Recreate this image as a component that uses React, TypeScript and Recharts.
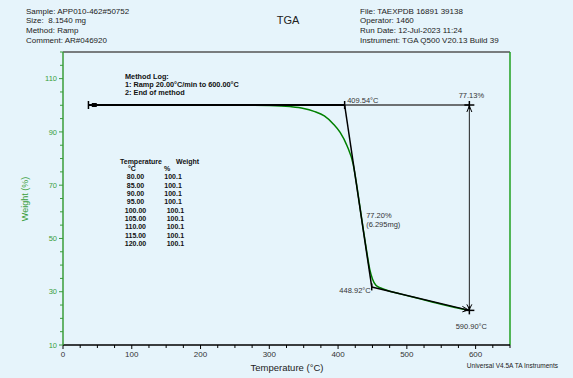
import React from "react";
import {
  ComposedChart,
  Line,
  XAxis,
  YAxis,
  ReferenceLine,
  ReferenceDot,
} from "recharts";

// TGA weight curve
const temps = [37, 60, 100, 150, 200, 250, 300, 330, 350, 365, 380, 393, 403, 413, 422, 427, 432, 437, 442, 446, 450, 455, 462, 475, 490, 510, 530, 550, 570, 590.9];
const weights = [100.1, 100.1, 100.1, 100.1, 100.1, 100.05, 99.9, 99.5, 98.8, 97.7, 96, 93, 89.8, 84.8, 77.8, 70.2, 61.5, 52.8, 44.5, 38.5, 34.8, 32.4, 31.4, 30.2, 29.2, 27.9, 26.6, 25.3, 24.1, 23.0];

// analysis points: onset, end of step, final temperature
const startTemp = 37;
const startSquare = 45.5;
const baseWeight = 100.1;
const onsetTemp = 409.54;
const stepEndTemp = 448.92;
const stepEndWeight = 31.8;
const finalTemp = 590.9;
const finalWeight = 23.0;

const xTicks = [0, 25, 50, 75, 100, 125, 150, 175, 200, 225, 250, 275, 300, 325, 350, 375, 400, 425, 450, 475, 500, 525, 550, 575, 600, 625, 650];
const yTicks = [10, 15, 20, 25, 30, 35, 40, 45, 50, 55, 60, 65, 70, 75, 80, 85, 90, 95, 100, 105, 110, 115, 120];

const headerLeft = ["Sample: APP010-462#50752", "Size:\u00a0 8.1540 mg", "Method: Ramp", "Comment: AR#046920"];
const headerRight = ["File: TAEXPDB 16891 39138", "Operator: 1460", "Run Date: 12-Jul-2023 11:24", "Instrument: TGA Q500 V20.13 Build 39"];
const methodLog = ["Method Log:", "1: Ramp 20.00°C/min to 600.00°C", "2: End of method"];
const tableTemps = ["80.00", "85.00", "90.00", "95.00", "100.00", "105.00", "110.00", "115.00", "120.00"];
const tableWeights = ["100.1", "100.1", "100.1", "100.1", "100.1", "100.1", "100.1", "100.1", "100.1"];

const curve = temps.map((t, i) => ({ t, w: weights[i] }));

const FONT = "'Liberation Sans', Arial, sans-serif";
const GREEN = "#008000";
const AXIS_GREEN = "#3a9e3a";
const LABEL = "#333";

const XTick = (props: any) => {
  const { x, y, payload } = props;
  const v = payload.value;
  const major = v % 100 === 0;
  return (
    <g>
      <line x1={x} x2={x} y1={y} y2={y + (major ? 4 : 3)} stroke="#000" strokeWidth={1} />
      {major && v <= 600 && (
        <text x={x} y={y + 12} textAnchor="middle" fontSize={8} fill={LABEL} fontFamily={FONT}>
          {v}
        </text>
      )}
    </g>
  );
};

const YTick = (props: any) => {
  const { x, y, payload } = props;
  const v = payload.value;
  const major = (v - 10) % 20 === 0;
  return (
    <g>
      <line x1={x - (major ? 4 : 3)} x2={x} y1={y} y2={y} stroke={AXIS_GREEN} strokeWidth={1} />
      {major && v < 120 && (
        <text x={x - 6} y={y + 2.6} textAnchor="end" fontSize={7.5} fill={AXIS_GREEN} fontFamily={FONT}>
          {v}
        </text>
      )}
    </g>
  );
};

const txt = (x: number, y: number, s: string, anchor = "start") => (
  <text x={x} y={y} textAnchor={anchor} fontSize={7.5} fill={LABEL} fontFamily={FONT}>
    {s}
  </text>
);

// start of baseline: bar + small square
const StartMark = (p: any) => (
  <g>
    <line x1={p.cx} x2={p.cx} y1={p.cy - 4} y2={p.cy + 4} stroke="#000" strokeWidth={1.5} />
  </g>
);
const SquareMark = (p: any) => <rect x={p.cx - 2.5} y={p.cy - 2} width={5} height={4} fill="#000" />;

const OnsetMark = (p: any) => (
  <g>
    <line x1={p.cx} x2={p.cx} y1={p.cy - 4} y2={p.cy + 4} stroke="#000" strokeWidth={1.5} />
    {txt(p.cx + 2.5, p.cy - 2, "409.54°C")}
  </g>
);

const TopCross = (p: any) => (
  <g>
    <line x1={p.cx - 5} x2={p.cx + 5} y1={p.cy} y2={p.cy} stroke="#000" strokeWidth={1.5} />
    <line x1={p.cx} x2={p.cx} y1={p.cy - 4} y2={p.cy + 4} stroke="#000" strokeWidth={1.5} />
    <path d={`M${p.cx - 2.5},${p.cy + 7} L${p.cx},${p.cy + 1} L${p.cx + 2.5},${p.cy + 7}`} stroke="#000" fill="none" strokeWidth={1} />
    {txt(p.cx + 2, p.cy - 7, "77.13%", "middle")}
  </g>
);

const StepEndMark = (p: any) => (
  <g>
    <line x1={p.cx} x2={p.cx} y1={p.cy - 3.5} y2={p.cy + 3.5} stroke="#000" strokeWidth={1.5} />
    {txt(p.cx - 1, p.cy + 6.5, "448.92°C", "end")}
  </g>
);

const BottomCross = (p: any) => (
  <g>
    <line x1={p.cx - 5} x2={p.cx + 5} y1={p.cy} y2={p.cy} stroke="#000" strokeWidth={1.5} />
    <line x1={p.cx} x2={p.cx} y1={p.cy - 4} y2={p.cy + 4} stroke="#000" strokeWidth={1.5} />
    <path d={`M${p.cx - 2.5},${p.cy - 6} L${p.cx},${p.cy - 1} L${p.cx + 2.5},${p.cy - 6}`} stroke="#000" fill="none" strokeWidth={1} />
    <path d={`M${p.cx - 7},${p.cy - 4} L${p.cx - 1},${p.cy - 0.5} L${p.cx - 7},${p.cy + 1.5}`} stroke="#000" fill="none" strokeWidth={1} />
    {txt(p.cx + 2, p.cy + 18.5, "590.90°C", "middle")}
  </g>
);

const StepLabel = (p: any) => (
  <g>
    {txt(p.cx + 8, p.cy + 22.5, "77.20%")}
    {txt(p.cx + 8, p.cy + 31, "(6.295mg)")}
  </g>
);

export default function App() {
  return (
    <div style={{ position: "fixed", left: 0, top: 0, width: 573, height: 378, background: "#e6f4fb" }}>
      <ComposedChart width={573} height={378} data={curve} margin={{ top: 52, right: 63, bottom: 13, left: 33 }}>
        <XAxis
          dataKey="t"
          type="number"
          domain={[0, 650]}
          ticks={xTicks}
          interval={0}
          height={20}
          tickSize={0}
          tickMargin={0}
          tick={<XTick />}
          axisLine={{ stroke: "#000", strokeWidth: 1.5 }}
          tickLine={false}
        />
        <YAxis
          type="number"
          domain={[10, 120]}
          ticks={yTicks}
          interval={0}
          width={30}
          tickSize={0}
          tickMargin={0}
          tick={<YTick />}
          axisLine={{ stroke: AXIS_GREEN, strokeWidth: 1.5 }}
          tickLine={false}
        />
        <ReferenceLine y={120} stroke="#555" strokeWidth={1.5} />
        <ReferenceLine x={650} stroke="#1fa01f" strokeWidth={1.5} />

        <Line dataKey="w" type="monotone" stroke={GREEN} strokeWidth={1.5} dot={false} isAnimationActive={false} />

        <ReferenceLine segment={[{ x: startTemp, y: baseWeight }, { x: onsetTemp, y: baseWeight }]} stroke="#000" strokeWidth={2} />
        <ReferenceLine segment={[{ x: onsetTemp, y: baseWeight }, { x: finalTemp, y: baseWeight }]} stroke="#444" strokeWidth={1.5} />
        <ReferenceLine segment={[{ x: onsetTemp, y: baseWeight }, { x: stepEndTemp, y: stepEndWeight }]} stroke="#000" strokeWidth={1.5} />
        <ReferenceLine segment={[{ x: stepEndTemp, y: stepEndWeight }, { x: finalTemp, y: finalWeight }]} stroke="#000" strokeWidth={1.5} />
        <ReferenceLine segment={[{ x: finalTemp, y: baseWeight }, { x: finalTemp, y: finalWeight }]} stroke="#222" strokeWidth={1} />

        <ReferenceDot x={startTemp} y={baseWeight} shape={<StartMark />} />
        <ReferenceDot x={startSquare} y={baseWeight} shape={<SquareMark />} />
        <ReferenceDot x={onsetTemp} y={baseWeight} shape={<OnsetMark />} />
        <ReferenceDot x={finalTemp} y={baseWeight} shape={<TopCross />} />
        <ReferenceDot x={stepEndTemp} y={stepEndWeight} shape={<StepEndMark />} />
        <ReferenceDot x={finalTemp} y={finalWeight} shape={<BottomCross />} />
        <ReferenceDot x={(onsetTemp + stepEndTemp) / 2} y={(baseWeight + stepEndWeight) / 2} shape={<StepLabel />} />
      </ComposedChart>

      <svg width={573} height={378} style={{ position: "absolute", left: 0, top: 0, pointerEvents: "none" }} fontFamily={FONT}>
        {headerLeft.map((s, i) => (
          <text key={s} x={26} y={13.5 + i * 9.8} fontSize={8} fill="#222">{s}</text>
        ))}
        <text x={288} y={24} fontSize={11} textAnchor="middle" fill="#222">TGA</text>
        {headerRight.map((s, i) => (
          <text key={s} x={360} y={13.5 + i * 9.8} fontSize={8} fill="#222">{s}</text>
        ))}

        {methodLog.map((s, i) => (
          <text key={s} x={125} y={78.5 + i * 8.4} fontSize={7.3} fontWeight="bold" fill="#111">{s}</text>
        ))}

        <text x={120} y={163.5} fontSize={7} fontWeight="bold" fill="#111">Temperature</text>
        <text x={176} y={163.5} fontSize={7} fontWeight="bold" fill="#111">Weight</text>
        <text x={128} y={171} fontSize={7} fontWeight="bold" fill="#111">°C</text>
        <text x={164} y={171} fontSize={7} fontWeight="bold" fill="#111">%</text>
        {tableTemps.map((s, i) => (
          <text key={"t" + i} x={135.5} y={179.2 + i * 8.33} fontSize={7} fontWeight="bold" fill="#111" textAnchor="middle">{s}</text>
        ))}
        {tableWeights.map((s, i) => (
          <text key={"w" + i} x={i < 4 ? 164.3 : 166.7} y={179.2 + i * 8.33} fontSize={7} fontWeight="bold" fill="#111">{s}</text>
        ))}

        <text x={25} y={199} fontSize={9} fill={AXIS_GREEN} textAnchor="middle" transform="rotate(-90 25 199)" dy={3}>Weight (%)</text>
        <text x={287} y={370.5} fontSize={9.5} fill="#222" textAnchor="middle">Temperature (°C)</text>
        <text x={558} y={368} fontSize={6.5} fill="#222" textAnchor="end">Universal V4.5A TA Instruments</text>
      </svg>
    </div>
  );
}
